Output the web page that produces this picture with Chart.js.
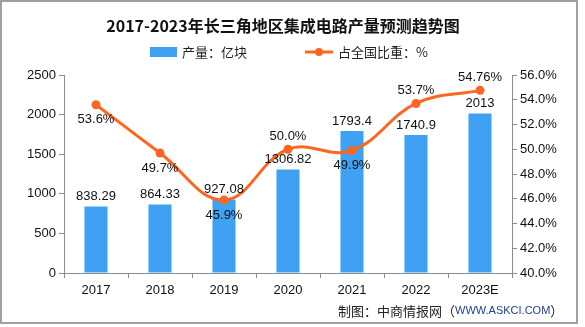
<!DOCTYPE html>
<html>
<head>
<meta charset="utf-8">
<script src="https://cdn.jsdelivr.net/npm/chart.js@4/dist/chart.umd.min.js"></script>
<style>
  html, body { margin: 0; padding: 0; background: #ffffff; }
  #wrap { width: 585px; height: 327px; }
</style>
</head>
<body>
<div id="wrap"><canvas id="chart" width="585" height="327"></canvas></div>
<script>
// ============================================
// DATA
// ============================================
const years = ["2017", "2018", "2019", "2020", "2021", "2022", "2023E"];
const output = [838.29, 864.33, 927.08, 1306.82, 1793.4, 1740.9, 2013];
const outputLabels = ["838.29", "864.33", "927.08", "1306.82", "1793.4", "1740.9", "2013"];
const share = [53.6, 49.7, 45.9, 50.0, 49.9, 53.7, 54.76];
const shareLabels = ["53.6%", "49.7%", "45.9%", "50.0%", "49.9%", "53.7%", "54.76%"];
// where each share label sits relative to its point
const shareLabelSide = ["below", "below", "below", "above", "below", "above", "above"];

const BAR_COLOR = "#3fa1f2";
const LINE_COLOR = "#fb6620";
const AXIS_COLOR = "#8c8c8c";
const NUM_FONT = '"Liberation Sans", "Noto Sans CJK SC", sans-serif';
const CJK_FONT = '"Noto Sans CJK SC", "Liberation Sans", sans-serif';

// ============================================
// PLUGIN: title, legend, value labels, source, frame
// ============================================
const decorPlugin = {
    id: "decor",
    afterDatasetsDraw(chart) {
        const ctx = chart.ctx;
        ctx.save();

        // bar value labels
        const barMeta = chart.getDatasetMeta(0);
        ctx.fillStyle = "#111";
        ctx.font = "13px " + NUM_FONT;
        ctx.textAlign = "center";
        ctx.textBaseline = "middle";
        barMeta.data.forEach((bar, i) => {
            ctx.fillText(outputLabels[i], bar.x, bar.y - 10);
        });

        // line value labels
        const lineMeta = chart.getDatasetMeta(1);
        lineMeta.data.forEach((pt, i) => {
            const dy = shareLabelSide[i] === "above" ? -13 : 15;
            ctx.fillText(shareLabels[i], pt.x, pt.y + dy);
        });

        ctx.restore();
    },
    afterDraw(chart) {
        const ctx = chart.ctx;
        ctx.save();

        // title
        ctx.fillStyle = "#111";
        ctx.font = "bold 16px " + CJK_FONT;
        ctx.textAlign = "center";
        ctx.textBaseline = "middle";
        ctx.fillText("2017-2023年长三角地区集成电路产量预测趋势图", 283, 26);

        // legend
        ctx.fillStyle = BAR_COLOR;
        ctx.fillRect(150, 47, 27, 10);
        ctx.fillStyle = "#222";
        ctx.font = "13px " + CJK_FONT;
        ctx.textAlign = "left";
        ctx.fillText("产量：亿块", 182, 52);

        ctx.strokeStyle = LINE_COLOR;
        ctx.lineWidth = 3;
        ctx.beginPath();
        ctx.moveTo(305, 52);
        ctx.lineTo(333, 52);
        ctx.stroke();
        ctx.fillStyle = LINE_COLOR;
        ctx.beginPath();
        ctx.arc(319, 52, 4, 0, Math.PI * 2);
        ctx.fill();
        ctx.fillStyle = "#222";
        ctx.fillText("占全国比重：%", 338, 52);

        // source
        ctx.font = "13px " + CJK_FONT;
        const src1 = "制图：中商情报网（";
        const src2 = "WWW.ASKCI.COM";
        const src3 = "）";
        let x = 338;
        ctx.fillStyle = "#222";
        ctx.fillText(src1, x, 311);
        x += ctx.measureText(src1).width;
        ctx.fillStyle = "#1f3f8f";
        ctx.font = "11px " + NUM_FONT;
        ctx.fillText(src2, x, 311);
        x += ctx.measureText(src2).width;
        ctx.fillStyle = "#222";
        ctx.font = "13px " + CJK_FONT;
        ctx.fillText(src3, x, 311);

        // outer frame
        ctx.strokeStyle = "#a0a0a0";
        ctx.lineWidth = 2;
        ctx.strokeRect(1, 1, 576, 322);

        ctx.restore();
    }
};

// ============================================
// CHART
// ============================================
const ctx = document.getElementById("chart").getContext("2d");
new Chart(ctx, {
    data: {
        labels: years,
        datasets: [
            {
                type: "bar",
                label: "产量：亿块",
                data: output,
                yAxisID: "yLeft",
                backgroundColor: BAR_COLOR,
                barPercentage: 0.36,
                categoryPercentage: 1.0,
                order: 1
            },
            {
                type: "line",
                label: "占全国比重：%",
                data: share,
                yAxisID: "yRight",
                borderColor: LINE_COLOR,
                backgroundColor: LINE_COLOR,
                borderWidth: 3,
                pointRadius: 4.5,
                pointBackgroundColor: LINE_COLOR,
                pointBorderWidth: 0,
                tension: 0.4,
                order: 0
            }
        ]
    },
    options: {
        responsive: false,
        animation: false,
        layout: { padding: { top: 75, right: 0, bottom: 0, left: 0 } },
        plugins: {
            legend: { display: false },
            title: { display: false },
            tooltip: { enabled: false }
        },
        scales: {
            x: {
                offset: true,
                grid: {
                    display: true,
                    offset: true,
                    drawOnChartArea: false,
                    drawTicks: true,
                    tickLength: 5,
                    color: AXIS_COLOR
                },
                border: { display: true, color: AXIS_COLOR },
                ticks: {
                    color: "#111",
                    font: { size: 13, family: NUM_FONT },
                    padding: 5,
                    maxRotation: 0
                },
                afterFit(scale) { scale.height = 54; }
            },
            yLeft: {
                position: "left",
                min: 0,
                max: 2500,
                grid: {
                    display: true,
                    drawOnChartArea: false,
                    drawTicks: true,
                    tickLength: 5,
                    color: AXIS_COLOR
                },
                border: { display: true, color: AXIS_COLOR },
                ticks: {
                    stepSize: 500,
                    color: "#111",
                    font: { size: 13, family: NUM_FONT },
                    padding: 3,
                    callback: v => String(v)
                },
                afterFit(scale) { scale.width = 64; }
            },
            yRight: {
                position: "right",
                min: 40,
                max: 56,
                grid: {
                    display: true,
                    drawOnChartArea: false,
                    drawTicks: true,
                    tickLength: 5,
                    color: AXIS_COLOR
                },
                border: { display: true, color: AXIS_COLOR },
                ticks: {
                    stepSize: 2,
                    color: "#111",
                    font: { size: 13, family: NUM_FONT },
                    padding: 3,
                    callback: v => v.toFixed(1) + "%"
                },
                afterFit(scale) { scale.width = 73; }
            }
        }
    },
    plugins: [decorPlugin]
});
</script>
</body>
</html>
